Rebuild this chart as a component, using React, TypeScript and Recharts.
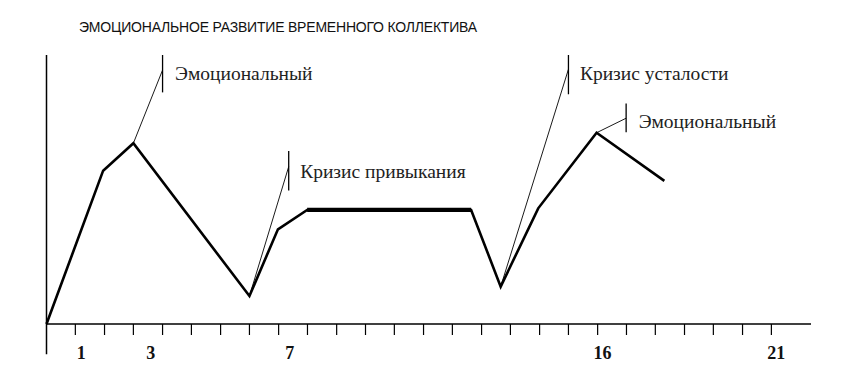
import { LineChart, Line, XAxis, YAxis, ReferenceLine, ReferenceDot } from "recharts";

// time points (x) and emotional level of the group
const xs = [0, 1.63, 2.5, 5.84, 6.66, 7.5, 12.22, 13.07, 14.15, 15.83, 17.78];
const level = [0, 57, 67.2, 10.4, 35.2, 42.4, 42.4, 13.9, 43, 71.1, 53.2];
const plateau = [null, null, null, null, null, 42.4, 42.4, null, null, null, null];

const tickLabels = [1, 3, 7, 16, 21];
const minorTicks = [
  0.83, 1.67, 2.5, 3.34, 4.17, 5.01, 5.84, 6.68, 7.51, 8.35, 9.18, 10.01, 10.85,
  11.68, 12.52, 13.35, 14.19, 15.02, 15.86, 16.69, 17.52, 18.36, 19.19, 20.03, 20.86,
];

const noteTexts = ["Эмоциональный", "Кризис привыкания", "Кризис усталости", "Эмоциональный"];
const noteAt = [2, 3, 7, 9]; // index of the point the leader starts from

// leader tip / marker bar / text anchor, in chart units
const noteLayout = [
  { tip: [3.34, 94.4], bar: [100, 86.1], text: [3.7, 93.3] },
  { tip: [6.97, 58.5], bar: [64.3, 49.6], text: [7.3, 57.0] },
  { tip: [15.02, 94.7], bar: [100, 85.4], text: [15.35, 93.2] },
  { tip: [16.68, 76.5], bar: [82.0, 71.3], text: [17.04, 75.5] },
];

const data = xs.map((x, i) => ({ x, level: level[i], plateau: plateau[i] }));
const allTicks = [...minorTicks, ...tickLabels].sort((a, b) => a - b);

const serif = "'Liberation Serif', 'Times New Roman', serif";

function AxisTick(props: any) {
  const { x, y, payload } = props;
  if (tickLabels.includes(payload.value)) {
    return (
      <text x={x} y={y + 35} textAnchor="middle" fontSize={18} fontWeight="bold" fontFamily={serif} fill="#111">
        {payload.value}
      </text>
    );
  }
  return <line x1={x} y1={y} x2={x} y2={y + 11} stroke="#000" strokeWidth={1.2} />;
}

export default function App() {
  return (
    <div style={{ position: "absolute", left: 0, top: 0, width: 866, height: 388, background: "#fff" }}>
      <div
        style={{
          position: "absolute",
          left: 79,
          top: 19,
          fontFamily: "'Liberation Sans', Arial, sans-serif",
          fontSize: 14,
          letterSpacing: -0.2,
          color: "#111",
          whiteSpace: "nowrap",
        }}
      >
        ЭМОЦИОНАЛЬНОЕ РАЗВИТИЕ ВРЕМЕННОГО КОЛЛЕКТИВА
      </div>
      <LineChart width={866} height={388} data={data} margin={{ top: 55, right: 55, bottom: 24, left: 46.5 }}>
        <XAxis
          dataKey="x"
          type="number"
          domain={[0, 22]}
          ticks={allTicks}
          interval={0}
          axisLine={{ stroke: "#000", strokeWidth: 1.5 }}
          tickLine={false}
          tickSize={0}
          tickMargin={0}
          height={40}
          tick={<AxisTick />}
        />
        <YAxis hide domain={[0, 100]} />
        <ReferenceLine
          segment={[{ x: 0, y: -11.2 }, { x: 0, y: 100 }]}
          stroke="#000"
          strokeWidth={1.5}
          ifOverflow="visible"
        />
        {noteLayout.map((n, i) => (
          <ReferenceLine
            key={`lead-${i}`}
            segment={[{ x: xs[noteAt[i]], y: level[noteAt[i]] }, { x: n.tip[0], y: n.tip[1] }]}
            stroke="#000"
            strokeWidth={0.9}
            ifOverflow="visible"
          />
        ))}
        {noteLayout.map((n, i) => (
          <ReferenceLine
            key={`bar-${i}`}
            segment={[{ x: n.tip[0], y: n.bar[0] }, { x: n.tip[0], y: n.bar[1] }]}
            stroke="#000"
            strokeWidth={1.3}
            ifOverflow="visible"
          />
        ))}
        {noteLayout.map((n, i) => (
          <ReferenceDot
            key={`txt-${i}`}
            x={n.text[0]}
            y={n.text[1]}
            r={0}
            fill="none"
            stroke="none"
            ifOverflow="visible"
            label={{
              value: noteTexts[i],
              position: "right",
              offset: 0,
              fontSize: 19.5,
              fill: "#222",
              fontFamily: serif,
            }}
          />
        ))}
        <Line
          type="linear"
          dataKey="level"
          stroke="#000"
          strokeWidth={2.6}
          dot={false}
          activeDot={false}
          isAnimationActive={false}
        />
        <Line
          type="linear"
          dataKey="plateau"
          stroke="#000"
          strokeWidth={4.2}
          dot={false}
          activeDot={false}
          connectNulls={false}
          isAnimationActive={false}
        />
      </LineChart>
    </div>
  );
}
